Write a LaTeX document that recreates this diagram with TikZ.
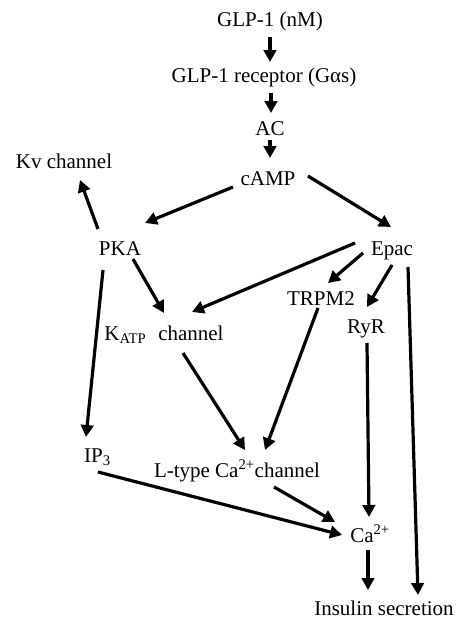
\documentclass[tikz,border=0pt]{standalone}
\usepackage{fontspec}
\setmainfont{Liberation Serif}
\usetikzlibrary{arrows.meta}
\begin{document}
\begin{tikzpicture}[x=1pt,y=-1pt,
  lbl/.style={anchor=base,inner sep=0pt,font=\fontsize{21}{25}\selectfont},
  arr/.style={line width=3.2pt,-{Triangle[length=12pt,width=12.5pt]}}]
\useasboundingbox (0,0) rectangle (458,624);
\node[lbl] (glp) at (270,26) {GLP-1 (nM)};
\node[lbl] (rec) at (264,82) {GLP-1 receptor (Gαs)};
\node[lbl] (ac) at (270,135) {AC};
\node[lbl] (camp) at (268,185) {cAMP};
\node[lbl] (kv) at (64,168) {Kv channel};
\node[lbl] (pka) at (120,255) {PKA};
\node[lbl] (epac) at (392,255) {Epac};
\node[lbl] (trpm) at (321,305) {TRPM2};
\node[lbl] (ryr) at (366,333) {RyR};
\node[lbl] (katp) at (164,340) {K\textsubscript{ATP}\hspace{12pt}channel};
\node[lbl] (ip3) at (97.5,462) {IP\textsubscript{3}};
\node[lbl] (ltype) at (237,477) {L-type Ca\textsuperscript{2+}channel};
\node[lbl] (ca) at (370,542) {Ca\textsuperscript{2+}};
\node[lbl] (ins) at (384,615) {Insulin secretion};
\draw[arr] ([shift={(0,11)}]glp.base) -- ([shift={(6,-20)}]rec.base);
\draw[arr] ([shift={(7,11)}]rec.base) -- ([shift={(1,-22)}]ac.base);
\draw[arr] ([shift={(0,5)}]ac.base) -- ([shift={(2,-27)}]camp.base);
\draw[arr] ([shift={(-22,-26)}]pka.base) -- ([shift={(16,12)}]kv.base);
\draw[arr] ([shift={(-35,2)}]camp.base) -- ([shift={(25,-32)}]pka.base);
\draw[arr] ([shift={(40,-9)}]camp.base) -- ([shift={(-1,-28)}]epac.base);
\draw[arr] ([shift={(13,4)}]pka.base) -- ([shift={(0,-27)}]katp.base);
\draw[arr] ([shift={(-37,-12)}]epac.base) -- ([shift={(28,-28)}]katp.base);
\draw[arr] ([shift={(-29,-2)}]epac.base) -- ([shift={(7,-22)}]trpm.base);
\draw[arr] ([shift={(0,10)}]epac.base) -- ([shift={(1,-26)}]ryr.base);
\draw[arr] ([shift={(16,12)}]epac.base) -- ([shift={(34,-20)}]ins.base);
\draw[arr] ([shift={(-17,15)}]pka.base) -- ([shift={(-11.5,-25)}]ip3.base);
\draw[arr] ([shift={(19,13)}]katp.base) -- ([shift={(8,-27)}]ltype.base);
\draw[arr] ([shift={(-3,3)}]trpm.base) -- ([shift={(28,-27)}]ltype.base);
\draw[arr] ([shift={(1,10)}]ryr.base) -- ([shift={(-1,-25)}]ca.base);
\draw[arr] ([shift={(0.5,10)}]ip3.base) -- ([shift={(-28,-7)}]ca.base);
\draw[arr] ([shift={(37,10)}]ltype.base) -- ([shift={(-35,-20)}]ca.base);
\draw[arr] ([shift={(-2,8)}]ca.base) -- ([shift={(-16,-25)}]ins.base);
\end{tikzpicture}
\end{document}
